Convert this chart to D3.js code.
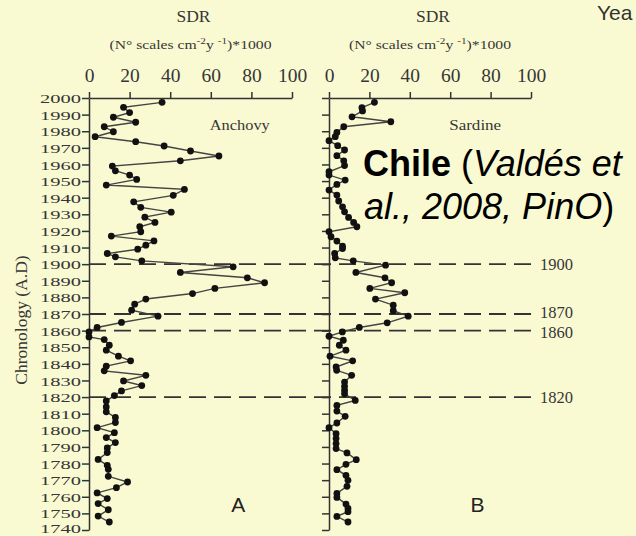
<!DOCTYPE html>
<html>
<head>
<meta charset="utf-8">
<script src="https://cdn.jsdelivr.net/npm/d3@7"></script>
<style>
  html, body { margin: 0; padding: 0; background: #fafad2; }
  svg { display: block; }
</style>
</head>
<body>
<svg id="chart" width="636" height="536"></svg>
<script>
// Scale deposition rate (SDR) downcore records, Chile
const anchovyYears = [1997.4, 1994.4, 1991.2, 1988.4, 1985.4, 1982.7, 1979.7, 1976.7, 1973.7, 1971.1,
  1968.1, 1965.1, 1962.2, 1959.0, 1956.2, 1953.6, 1951.0, 1947.6, 1945.0, 1941.4,
  1937.5, 1934.2, 1931.3, 1928.3, 1925.1, 1922.5, 1919.5, 1916.9, 1914.0, 1911.4,
  1909.0, 1906.4, 1904.4, 1902.0, 1898.4, 1895.0, 1891.8, 1888.8, 1885.4, 1882.3,
  1879.0, 1875.9, 1872.3, 1868.7, 1864.9, 1861.9, 1859.2, 1856.2, 1854.6, 1851.2,
  1848.2, 1844.6, 1841.8, 1838.6, 1835.8, 1833.1, 1829.7, 1826.9, 1823.7, 1820.9,
  1817.7, 1814.1, 1811.1, 1807.7, 1804.7, 1801.6, 1798.6, 1795.6, 1792.6, 1789.4,
  1786.6, 1782.5, 1778.9, 1776.5, 1772.3, 1768.9, 1765.5, 1762.3, 1758.9, 1755.9,
  1752.2, 1748.4, 1744.8];
const anchovySDR = [36, 17, 20, 12, 23, 7.5, 12, 3, 23, 37,
  50, 64, 45, 11.5, 13, 20, 23.5, 8.5, 47, 41.5,
  22, 25.5, 40.5, 27.5, 32.5, 25, 25.5, 11, 32, 28,
  24, 9, 13, 26, 71, 45, 78, 86.5, 62, 51,
  28, 22.5, 21, 34, 16, 4, 0, 0, 7.5, 10,
  8.5, 14.5, 20.5, 8.5, 7.5, 28, 17, 26, 16, 12.5,
  8.5, 8.5, 8.5, 13, 13, 4, 12.5, 8.5, 13, 9,
  9, 4.5, 9, 9.5, 9.5, 19, 13.5, 4, 9, 4.5,
  9.5, 4.5, 10];

const sardineYears = [1997.4, 1994.2, 1992.2, 1988.7, 1985.7, 1982.7, 1979.3, 1976.7, 1974.3, 1971.3,
  1968.7, 1965.3, 1962.2, 1959.3, 1955.6, 1953.6, 1950.6, 1948.0, 1944.6, 1941.6,
  1938.0, 1934.5, 1931.5, 1928.1, 1925.1, 1922.5, 1919.5, 1916.5, 1913.9, 1910.8,
  1909.4, 1906.4, 1903.8, 1902.0, 1899.4, 1895.0, 1891.8, 1888.8, 1885.4, 1882.8,
  1879.0, 1875.3, 1872.0, 1868.7, 1864.7, 1861.9, 1859.2, 1856.6, 1854.2, 1851.2,
  1848.2, 1844.6, 1841.8, 1838.1, 1836.1, 1833.1, 1829.0, 1826.5, 1824.1, 1822.0,
  1818.0, 1815.0, 1811.6, 1808.4, 1804.4, 1801.6, 1798.0, 1795.0, 1792.0, 1789.0,
  1786.4, 1782.3, 1779.5, 1776.3, 1772.9, 1769.9, 1766.3, 1762.0, 1759.6, 1755.6,
  1753.0, 1751.0, 1748.2, 1744.8];
const sardineSDR = [22.5, 16.3, 16.6, 11.4, 30.6, 7.3, 3.9, 3.1, 0, 4.3,
  7.7, 3.9, 7.3, 7.7, 0, 0, 8, 3.9, 0, 3.9,
  4.8, 6.7, 7.7, 9.7, 12.2, 13.8, 0, 1, 3.9, 6.7,
  6.7, 2.8, 3.1, 12, 28, 13.3, 27.7, 31, 20.2, 37.5,
  23, 31.8, 31.8, 39.2, 28.8, 15, 6.6, 0, 7.1, 5.1,
  8.4, 0.5, 11.7, 3.5, 3.8, 11.2, 7.7, 7.7, 7.7, 7.7,
  13, 3.9, 3.9, 8, 3.9, 0, 3.5, 3.5, 3.5, 3.5,
  8.9, 13.5, 8.4, 3.9, 8.4, 9.4, 8.9, 3.9, 3.9, 8.4,
  9.4, 9.4, 3.9, 9.4];

const sdrTicks = [0, 20, 40, 60, 80, 100];
const yearTicks = d3.range(1740, 2001, 10);
const markedYears = [1900, 1870, 1860, 1820];
const panelNames = ["Anchovy", "Sardine"];
const panelLetters = ["A", "B"];

const svg = d3.select("#chart");
const serif = "'Liberation Serif', 'Times New Roman', serif";
const sans = "'Liberation Sans', Arial, sans-serif";
const ink = "#363636";

svg.append("rect").attr("width", 636).attr("height", 536).attr("fill", "#fafad2");

const y = d3.scaleLinear().domain([1740, 2000]).range([530, 98]);
const xA = d3.scaleLinear().domain([0, 100]).range([89, 292]);
const xB = d3.scaleLinear().domain([0, 100]).range([329, 531]);

const panels = [
  { x: xA, years: anchovyYears, values: anchovySDR, name: panelNames[0], letter: panelLetters[0], yLabels: true },
  { x: xB, years: sardineYears, values: sardineSDR, name: panelNames[1], letter: panelLetters[1], yLabels: false }
];

// horizontal reference years spanning both panels
const refG = svg.append("g");
refG.selectAll("line").data(markedYears).join("line")
  .attr("x1", xA(0)).attr("x2", xB(100))
  .attr("y1", d => y(d)).attr("y2", d => y(d))
  .attr("stroke", "#333").attr("stroke-width", 1.8)
  .attr("stroke-dasharray", "17,8");
// nudge the two close labels apart a little
const labelShift = { 1870: -1.5, 1860: 1.5 };
refG.selectAll("text").data(markedYears).join("text")
  .attr("x", xB(100) + 9).attr("y", d => y(d) + (labelShift[d] || 0)).attr("dy", "0.35em")
  .attr("font-family", serif).attr("font-size", 16).attr("fill", ink)
  .attr("textLength", 33).attr("lengthAdjust", "spacingAndGlyphs")
  .text(d => d);

panels.forEach(p => {
  const g = svg.append("g");

  // top SDR axis
  const top = g.append("g").attr("transform", `translate(0,${y(2000)})`)
    .call(d3.axisTop(p.x).tickValues(sdrTicks).tickSize(6).tickSizeOuter(0).tickPadding(10));
  top.select(".domain").attr("stroke", "#333").attr("stroke-width", 1.5);
  top.selectAll(".tick line").attr("stroke", "#333").attr("stroke-width", 1.5);
  top.selectAll(".tick text").attr("font-family", serif).attr("font-size", 19.5).attr("fill", ink);

  // chronology axis
  const left = g.append("g").attr("transform", `translate(${p.x(0)},0)`)
    .call(d3.axisLeft(y).tickValues(yearTicks).tickSize(7).tickSizeOuter(0).tickPadding(1)
      .tickFormat(p.yLabels ? d3.format("d") : () => ""));
  left.select(".domain").attr("stroke", "#333").attr("stroke-width", 1.5);
  left.selectAll(".tick line").attr("stroke", "#333").attr("stroke-width", 1.5);
  left.selectAll(".tick text").attr("font-family", serif).attr("font-size", 13.5).attr("fill", ink)
    .attr("textLength", p.yLabels ? 41 : null).attr("lengthAdjust", "spacingAndGlyphs")
    // the lowest label sits on the bottom edge; lift it slightly so it stays inside
    .attr("dy", d => d === 1740 ? "0.22em" : "0.34em");

  // header
  const cx = (p.x.range()[0] + p.x.range()[1]) / 2;
  g.append("text").attr("x", cx + 3).attr("y", 22).attr("text-anchor", "middle")
    .attr("font-family", serif).attr("font-size", 16).attr("fill", ink)
    .attr("textLength", 34).attr("lengthAdjust", "spacingAndGlyphs").text("SDR");
  const unit = g.append("text").attr("x", cx - 81).attr("y", 49)
    .attr("font-family", serif).attr("font-size", 12.5).attr("fill", ink)
    .attr("textLength", 162).attr("lengthAdjust", "spacingAndGlyphs");
  unit.append("tspan").text("(N° scales cm");
  unit.append("tspan").attr("dy", -5).attr("font-size", 9).text("-2");
  unit.append("tspan").attr("dy", 5).text("y ");
  unit.append("tspan").attr("dy", -5).attr("font-size", 9).text("-1");
  unit.append("tspan").attr("dy", 5).text(")*1000");

  // series
  const pts = p.years.map((yr, i) => ({ yr, v: p.values[i] }));
  const line = d3.line().x(d => p.x(d.v)).y(d => y(d.yr));
  g.append("path").datum(pts).attr("d", line)
    .attr("fill", "none").attr("stroke", "#444").attr("stroke-width", 1.4);
  g.selectAll("circle").data(pts).join("circle")
    .attr("cx", d => p.x(d.v)).attr("cy", d => y(d.yr)).attr("r", 3.4)
    .attr("fill", "#111");

  // species name and panel letter
  g.append("text").attr("x", p.x(59.5)).attr("y", 130)
    .attr("font-family", serif).attr("font-size", 15.5).attr("fill", ink)
    .attr("textLength", p.letter === "A" ? 60 : 52).attr("lengthAdjust", "spacingAndGlyphs")
    .text(p.name);
  g.append("text").attr("x", p.x(73.5)).attr("y", 512).attr("text-anchor", "middle")
    .attr("font-family", sans).attr("font-size", 21).attr("fill", "#222")
    .text(p.letter);
});

// y axis title
svg.append("text")
  .attr("transform", "translate(27,320) rotate(-90)")
  .attr("text-anchor", "middle")
  .attr("font-family", serif).attr("font-size", 17.5).attr("fill", ink)
  .text("Chronology (A.D)");

// source note
const note = svg.append("text").attr("font-family", sans).attr("font-size", 36).attr("fill", "#000");
note.append("tspan").attr("x", 363).attr("y", 176).attr("font-weight", "bold").text("Chile");
note.append("tspan").text(" (");
note.append("tspan").attr("font-style", "italic").text("Valdés et");
note.append("tspan").attr("x", 364).attr("y", 219).attr("font-style", "italic").text("al., 2008, PinO");
note.append("tspan").text(")");

svg.append("text").attr("x", 597).attr("y", 20)
  .attr("font-family", sans).attr("font-size", 21).attr("fill", "#333")
  .text("Yea");
</script>
</body>
</html>
